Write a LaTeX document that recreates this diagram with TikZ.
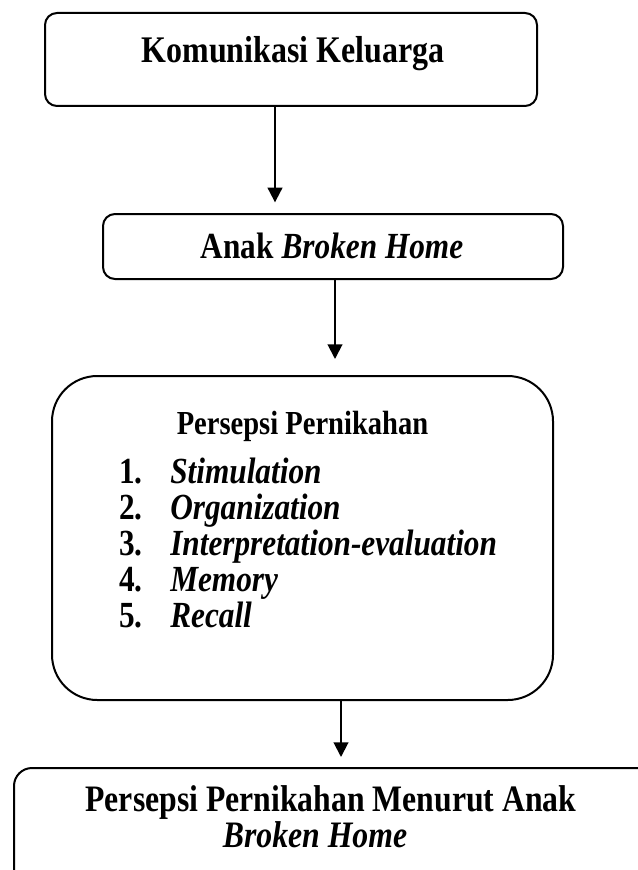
\documentclass[tikz,border=0pt]{standalone}
\usepackage{fontspec}
\setmainfont{Liberation Serif}[FakeStretch=0.85]
\usetikzlibrary{arrows.meta}

\tikzset{
  kotak/.style={draw,line width=1.5pt,rounded corners=9pt,inner sep=0pt},
  teks/.style={font=\fontsize{27.6}{31}\selectfont\bfseries,anchor=base,inner sep=0pt},
  panah/.style={-{Triangle[length=11pt,width=11pt]},line width=1.5pt}
}

\begin{document}
\begin{tikzpicture}[x=0.75pt,y=-0.75pt]
            \useasboundingbox (0,0) rectangle (638,870);

            % kotak
            \node[kotak,minimum width=369pt,minimum height=69.75pt] (kom) at (291,59.5) {};
            \node[kotak,minimum width=345pt,minimum height=48.75pt] (anak) at (333,246.5) {};
            \node[kotak,rounded corners=34pt,minimum width=375.75pt,minimum height=243pt] (persepsi) at (302.5,538) {};
            \node[kotak,rounded corners=13.5pt,minimum width=495pt,minimum height=105pt] (hasil) at (344,838) {};

            % teks
            \node[teks] (komteks) at (293,63) {\fontsize{28.2}{32}\selectfont Komunikasi Keluarga};
            \node[teks] (anakteks) at (332,258) {Anak \textit{Broken Home}};
            \node[teks] (judul) at (302.5,434) {\fontsize{25.2}{29}\selectfont Persepsi Pernikahan};
            \foreach \no/\isi [count=\i from 0] in {1/Stimulation,2/Organization,3/Interpretation-evaluation,4/Memory,5/Recall}{
                \node[teks,anchor=base west] (no\no) at (119,483+36*\i) {\no.};
                \node[teks,anchor=base west] (isi\no) at (170,483+36*\i) {\textit{\isi}};
            }
            \node[teks] (hasil1) at (331,811) {\fontsize{28}{32}\selectfont Persepsi Pernikahan Menurut Anak};
            \node[teks] (hasil2) at (315,847) {\fontsize{28}{32}\selectfont\textit{Broken Home}};

            % panah
            \draw[panah] (kom.south -| 275,0) -- ([yshift=8pt]anak.north -| 275,0);
            \draw[panah] (anak.south -| 335,0) -- ([yshift=12pt]persepsi.north -| 335,0);
            \draw[panah] (persepsi.south -| 341,0) -- ([yshift=7.5pt]hasil.north -| 341,0);
\end{tikzpicture}
\end{document}
